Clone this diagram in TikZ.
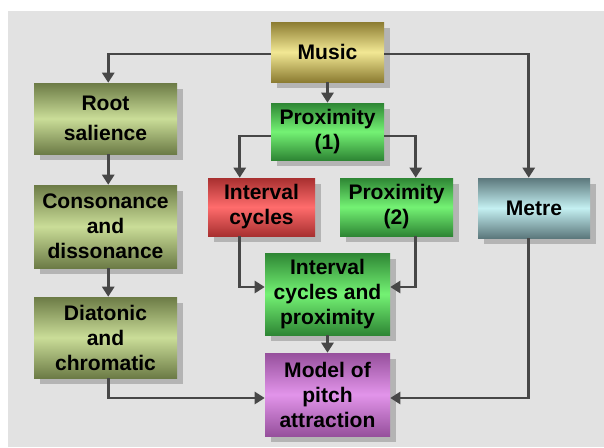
\documentclass[tikz,border=0pt]{standalone}
\usepackage{fontspec}
\setmainfont{Liberation Sans}
\usetikzlibrary{arrows.meta,shadows,calc}
\definecolor{bg}{HTML}{E2E2E2}
\definecolor{shd}{HTML}{B4B4B4}
\definecolor{arr}{HTML}{474747}
\definecolor{yelD}{HTML}{8C7C32}
\definecolor{yelL}{HTML}{F2E894}
\definecolor{oliD}{HTML}{6C7B46}
\definecolor{oliL}{HTML}{CADD98}
\definecolor{grnD}{HTML}{2E8634}
\definecolor{grnL}{HTML}{74F274}
\definecolor{redD}{HTML}{A83030}
\definecolor{redL}{HTML}{FF6C6C}
\definecolor{cyaD}{HTML}{5C787C}
\definecolor{cyaL}{HTML}{C4F0F2}
\definecolor{purD}{HTML}{96509C}
\definecolor{purL}{HTML}{E294EA}
\begin{document}
\begin{tikzpicture}[x=0.75pt,y=-0.75pt,
  box/.style={rectangle, inner sep=0pt, align=center, text=black,
    font=\bfseries\fontsize{15.8}{18.75}\selectfont,
    drop shadow={shadow xshift=4.5pt, shadow yshift=-4.5pt, fill=shd, opacity=1}},
  yelbox/.style={box, top color=yelD, bottom color=yelD, middle color=yelL},
  olibox/.style={box, top color=oliD, bottom color=oliD, middle color=oliL},
  grnbox/.style={box, top color=grnD, bottom color=grnD, middle color=grnL},
  redbox/.style={box, top color=redD, bottom color=redD, middle color=redL},
  cyabox/.style={box, top color=cyaD, bottom color=cyaD, middle color=cyaL},
  purbox/.style={box, top color=purD, bottom color=purD, middle color=purL},
  conn/.style={draw=arr, line width=2.1pt, -{Triangle[length=7.5pt,width=9pt]}}]
\useasboundingbox (0,0) rectangle (604,447);
\fill[white] (0,0) rectangle (604,447);
\fill[bg] (8,11) rectangle (604,447);

\node[yelbox, minimum width=113*0.75pt, minimum height=60*0.75pt] (music) at (327.5,52) {Music};
\node[olibox, minimum width=143*0.75pt, minimum height=71*0.75pt] (root) at (105.5,118.5) {Root\\[3.75pt]salience};
\node[grnbox, minimum width=113*0.75pt, minimum height=57*0.75pt] (prox1) at (327.5,131.5) {Proximity\\(1)};
\node[redbox, minimum width=107*0.75pt, minimum height=58*0.75pt] (ic) at (261.5,207) {Interval\\cycles};
\node[grnbox, minimum width=113*0.75pt, minimum height=58*0.75pt] (prox2) at (396.5,207) {Proximity\\(2)};
\node[cyabox, minimum width=112*0.75pt, minimum height=60*0.75pt] (metre) at (534,208) {Metre};
\node[olibox, minimum width=143*0.75pt, minimum height=83*0.75pt] (cons) at (105.5,226.5) {Consonance\\and\\dissonance};
\node[grnbox, minimum width=125*0.75pt, minimum height=82*0.75pt] (icp) at (327.5,294) {Interval\\cycles and\\proximity};
\node[olibox, minimum width=143*0.75pt, minimum height=81*0.75pt] (diat) at (105.5,337.5) {Diatonic\\and\\chromatic};
\node[purbox, minimum width=125*0.75pt, minimum height=83*0.75pt] (model) at (327.5,394.5) {Model of\\pitch\\attraction};

\coordinate (rootin) at ($(root.north west)+(74.5,0)$);
\draw[conn] ($(music.west)+(0,2)$) -| (rootin);
\draw[conn] (music.south) -- (prox1.north);
\coordinate (metrein) at ($(metre.north west)+(51,0)$);
\draw[conn] ($(music.east)+(0,2)$) -| (metrein);
\coordinate (icin) at ($(ic.north west)+(32,0)$);
\draw[conn] ($(prox1.west)+(0,4.5)$) -| (icin);
\coordinate (p2in) at ($(prox2.north west)+(76,0)$);
\draw[conn] ($(prox1.east)+(0,4.5)$) -| (p2in);
\coordinate (icout) at ($(ic.south west)+(32,0)$);
\draw[conn] (icout) |- ($(icp.west)+(0,-7)$);
\coordinate (p2out) at ($(prox2.south west)+(76,0)$);
\draw[conn] (p2out) |- ($(icp.east)+(0,-7)$);
\draw[conn] (icp.south) -- (model.north);
\coordinate (rootout) at ($(root.south west)+(74.5,0)$);
\draw[conn] (rootout) -- (rootout |- cons.north);
\coordinate (consout) at ($(cons.south west)+(74.5,0)$);
\draw[conn] (consout) -- (consout |- diat.north);
\coordinate (diatout) at ($(diat.south west)+(74.5,0)$);
\draw[conn] (diatout) |- ($(model.west)+(0,3.5)$);
\coordinate (metreout) at ($(metre.south west)+(51,0)$);
\draw[conn] (metreout) |- ($(model.east)+(0,3.5)$);
\end{tikzpicture}
\end{document}
